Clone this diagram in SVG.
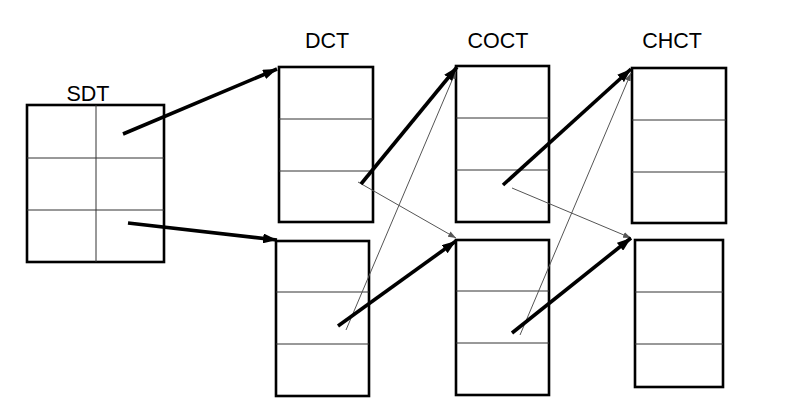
<svg xmlns="http://www.w3.org/2000/svg" width="800" height="405" viewBox="0 0 800 405">
<style>
.box{fill:#fff;stroke:#000;stroke-width:2.6}
.div{stroke:#333;stroke-width:1}
.lbl{font-family:"Liberation Sans",Arial,sans-serif;font-size:21.5px;fill:#000;text-anchor:middle}
.thick{stroke:#000;stroke-width:3.6;fill:none;marker-end:url(#big)}
.thin{stroke:#555;stroke-width:1;fill:none;marker-end:url(#small)}
</style>
<defs>
<marker id="big" markerUnits="userSpaceOnUse" viewBox="0 0 14 10" refX="14" refY="5" markerWidth="14" markerHeight="10" orient="auto">
<path d="M0,0 L14,5 L0,10 z" fill="#000"/>
</marker>
<marker id="small" markerUnits="userSpaceOnUse" viewBox="0 0 8 6" refX="8" refY="3" markerWidth="8" markerHeight="6" orient="auto">
<path d="M0,0 L8,3 L0,6 z" fill="#555"/>
</marker>
</defs>
<g id="SDT">
<rect class="box" x="27" y="105" width="137" height="157"/>
<line class="div" x1="27" y1="158" x2="164" y2="158"/>
<line class="div" x1="27" y1="210" x2="164" y2="210"/>
<line class="div" x1="96" y1="105" x2="96" y2="262"/>
<text class="lbl" x="88" y="101">SDT</text>
</g>
<g id="DCT1">
<rect class="box" x="279" y="67" width="94" height="155"/>
<line class="div" x1="279" y1="119" x2="373" y2="119"/>
<line class="div" x1="279" y1="171" x2="373" y2="171"/>
<text class="lbl" x="327" y="48">DCT</text>
</g>
<g id="DCT2">
<rect class="box" x="276" y="241" width="93" height="155"/>
<line class="div" x1="276" y1="292" x2="369" y2="292"/>
<line class="div" x1="276" y1="344" x2="369" y2="344"/>
</g>
<g id="COCT1">
<rect class="box" x="456" y="66" width="93" height="156"/>
<line class="div" x1="456" y1="118" x2="549" y2="118"/>
<line class="div" x1="456" y1="170" x2="549" y2="170"/>
<text class="lbl" x="498" y="48">COCT</text>
</g>
<g id="COCT2">
<rect class="box" x="456" y="240" width="93" height="155"/>
<line class="div" x1="456" y1="291" x2="549" y2="291"/>
<line class="div" x1="456" y1="343" x2="549" y2="343"/>
</g>
<g id="CHCT1">
<rect class="box" x="632" y="68" width="94" height="155"/>
<line class="div" x1="632" y1="120" x2="726" y2="120"/>
<line class="div" x1="632" y1="172" x2="726" y2="172"/>
<text class="lbl" x="672" y="48">CHCT</text>
</g>
<g id="CHCT2">
<rect class="box" x="635" y="240" width="88" height="147"/>
<line class="div" x1="635" y1="292" x2="723" y2="292"/>
<line class="div" x1="635" y1="344" x2="723" y2="344"/>
</g>
<g id="connectors">
<line class="thin" x1="358" y1="182" x2="456" y2="238"/>
<line class="thin" x1="346" y1="330" x2="456" y2="71"/>
<line class="thin" x1="512" y1="188" x2="631" y2="238"/>
<line class="thin" x1="520" y1="335" x2="631" y2="73"/>
<line class="thick" x1="123" y1="134" x2="277" y2="69"/>
<line class="thick" x1="128" y1="223" x2="277" y2="240"/>
<line class="thick" x1="361" y1="184" x2="457" y2="67"/>
<line class="thick" x1="338" y1="326" x2="456" y2="241"/>
<line class="thick" x1="503" y1="185" x2="631" y2="69"/>
<line class="thick" x1="512" y1="333" x2="631" y2="238"/>
</g>
</svg>
